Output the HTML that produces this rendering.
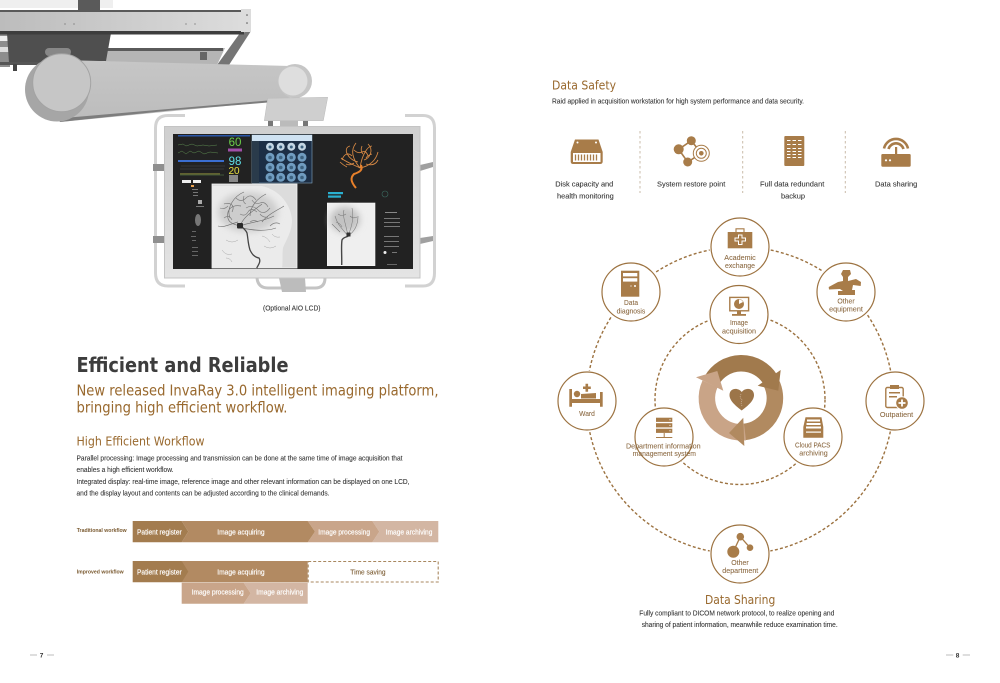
<!DOCTYPE html>
<html><head><meta charset="utf-8"><title>InvaRay</title>
<style>
html,body{margin:0;padding:0;background:#fff;width:1000px;height:683px;overflow:hidden}
svg{display:block}
.b{font-family:"Liberation Sans",sans-serif;font-size:7px;fill:#333;stroke:#333;stroke-width:.08}
.h{font-family:"DejaVu Sans",sans-serif;fill:#99692f}
.n{font-family:"Liberation Sans",sans-serif;font-size:7.5px;fill:#8c6a43;stroke:#8c6a43;stroke-width:.08;text-anchor:middle}
.w{font-family:"Liberation Sans",sans-serif;font-size:7px;fill:#fff;stroke:#fff;stroke-width:.15}
.l{font-family:"Liberation Sans",sans-serif;font-size:5.5px;fill:#7a5a30;font-weight:bold}
.node{fill:#fff;stroke:#9c7240;stroke-width:1.2}
.ic{fill:#a87c4a}
</style></head><body>
<svg width="1000" height="683" viewBox="0 0 1000 683" xmlns="http://www.w3.org/2000/svg">
<defs>
<linearGradient id="rail" x1="0" x2="1" y1="0" y2="0"><stop offset="0" stop-color="#bcbcbc"/><stop offset="1" stop-color="#dcdcdc"/></linearGradient>
<linearGradient id="arm" x1="0" x2="0" y1="0" y2="1"><stop offset="0" stop-color="#c6c6c6"/><stop offset="1" stop-color="#bcbcbc"/></linearGradient>
<linearGradient id="frame" x1="0" x2="0" y1="0" y2="1"><stop offset="0" stop-color="#cfcfcf"/><stop offset="1" stop-color="#e4e4e4"/></linearGradient>
<filter id="all" x="0" y="0" width="100%" height="100%"><feGaussianBlur stdDeviation=".3"/></filter>
<filter id="w" x="-30%" y="-30%" width="160%" height="160%"><feGaussianBlur stdDeviation="3.5"/></filter>
<filter id="v" x="-5%" y="-5%" width="110%" height="110%"><feGaussianBlur stdDeviation=".35"/></filter>
</defs>
<g filter="url(#all)">
<rect width="1000" height="683" fill="#fff"/>
<!-- gantry -->
<rect x="0" y="0" width="113" height="8" fill="#efefef"/>
<rect x="78" y="0" width="22" height="10" fill="#5a5a5a"/>
<rect x="0" y="33" width="10" height="34" fill="#8d8d8d"/>
<rect x="0" y="36" width="10" height="5" fill="#eee"/>
<rect x="0" y="47" width="10" height="5" fill="#ddd"/>
<polygon points="107,48 225,48 217,65 105,62" fill="#b5b5b5"/>
<rect x="107" y="48" width="116" height="3" fill="#5a5a5a"/>
<polygon points="251,31 229,65 217,65 240,33" fill="#747474"/>
<polygon points="7,33 111,33 106,61 30,63 9,63" fill="#4f4f4f"/>
<rect x="0" y="62" width="45" height="3" fill="#555"/>
<rect x="13" y="64" width="4" height="7" fill="#444"/>
<rect x="0" y="31" width="244" height="3.5" fill="#3e3e3e"/>
<rect x="0" y="12" width="243" height="19" fill="url(#rail)"/>
<rect x="0" y="10" width="243" height="2" fill="#5a5a5a"/>
<rect x="241" y="9" width="10" height="23" fill="#dcdcdc"/>
<circle cx="247" cy="15" r=".8" fill="#555"/><circle cx="247" cy="23" r=".8" fill="#555"/>
<circle cx="65" cy="24" r=".6" fill="#666"/><circle cx="74" cy="24" r=".6" fill="#666"/><circle cx="186" cy="24" r=".6" fill="#666"/><circle cx="195" cy="24" r=".6" fill="#666"/>
<rect x="200" y="52" width="7" height="8" fill="#666"/>
<rect x="45" y="48" width="26" height="8" rx="4" fill="#888"/>
<polygon points="80,60.5 290,66 293,97 268,102 60,122" fill="url(#arm)"/>
<polygon points="58,118.5 268,100.5 268,102.5 170,110.5 60,122" fill="#7d7d7d"/>
<circle cx="57" cy="89.5" r="32" fill="#a6a6a6"/>
<circle cx="61.7" cy="82.7" r="29" fill="#c6c6c6" stroke="#a3a3a3" stroke-width="1"/>
<circle cx="295" cy="81" r="17" fill="#c6c6c6"/>
<circle cx="293" cy="81" r="14.5" fill="#dedede"/>
<rect x="268" y="120" width="5" height="7" fill="#777"/><rect x="280" y="120" width="18" height="7" fill="#bbb"/><rect x="303" y="120" width="5" height="7" fill="#777"/>
<polygon points="267.7,98.3 327.7,97.3 323.3,120.7 264.3,120.7" fill="#cfcfcf" stroke="#bbb" stroke-width=".5"/>
<!-- handles -->
<path d="M185 115.5H168Q155.5 115.5 155.5 128V273Q155.5 286 168 286H185" fill="none" stroke="#d2d2d2" stroke-width="3"/>
<path d="M405 115.5H423Q434.5 115.5 434.5 128V273Q434.5 286 423 286H405" fill="none" stroke="#d2d2d2" stroke-width="3"/>
<rect x="153" y="164" width="12" height="7" fill="#8f8f8f"/><rect x="153" y="236" width="12" height="7" fill="#8f8f8f"/>
<polygon points="420,165 433,162 433,167 420,171" fill="#a0a0a0"/><polygon points="420,238 433,236 433,241 420,244" fill="#a0a0a0"/>
<path d="M257 278Q258 288 268 288H315Q325 288 325 278" fill="none" stroke="#c4c4c4" stroke-width="3"/>
<polygon points="279,278 305,278 306,292 282,292" fill="#bcbcbc"/>
<!-- monitor -->
<rect x="164.5" y="126.5" width="255.5" height="151.5" fill="url(#frame)" stroke="#c4c4c4"/>
<rect x="173" y="134" width="240" height="135" fill="#232323"/>
<!-- left panel -->
<rect x="178" y="135" width="72" height="1.5" fill="#2c56a8"/>
<rect x="178" y="160" width="46" height="2" fill="#3a6ed0"/>
<path d="M178 145l5-1 3 2 6-2 5 2 6-1 6 1 8-1M178 153l4-2 4 3 4-3 4 2 5-2 5 3 6-2 8 1M180 175h44" stroke="#5c8a50" stroke-width=".5" fill="none"/>
<path d="M181 166h44M180 169h44" stroke="#4a4a4a" stroke-width=".6"/>
<rect x="182" y="180" width="9" height="3" fill="#eee"/><rect x="193" y="180" width="8" height="3" fill="#eee"/>
<rect x="191" y="185" width="3" height="2" fill="#e8a050"/>
<rect x="192" y="189" width="6" height="1" fill="#777"/><rect x="193" y="192" width="5" height="1" fill="#777"/><rect x="193" y="195" width="5" height="1" fill="#777"/>
<rect x="198" y="200" width="4" height="4" fill="#aaa"/><rect x="196" y="206" width="8" height="1" fill="#777"/>
<ellipse cx="198" cy="220" rx="3" ry="6" fill="#777"/>
<rect x="192" y="231" width="4" height="1" fill="#666"/><rect x="191" y="236" width="5" height="1" fill="#666"/><rect x="192" y="240" width="4" height="1" fill="#666"/>
<rect x="192" y="247" width="6" height="1" fill="#666"/><rect x="192" y="251" width="6" height="1" fill="#666"/><rect x="192" y="255" width="6" height="1" fill="#666"/>
<text x="235" y="146" text-anchor="middle" font-family="Liberation Sans,sans-serif" font-size="11.5" fill="#6cd04a">60</text>
<rect x="228" y="148.5" width="14" height="3" fill="#a050a8"/>
<text x="235" y="165" text-anchor="middle" font-family="Liberation Sans,sans-serif" font-size="11.5" fill="#5fe0e8">98</text>
<text x="234" y="174" text-anchor="middle" font-family="Liberation Sans,sans-serif" font-size="10" fill="#e8e040">20</text>
<rect x="229" y="175" width="9" height="7" fill="#888"/>
<rect x="180" y="173.5" width="40" height=".8" fill="#a0a040"/>
<!-- blue panel -->
<rect x="252" y="135" width="60" height="48" fill="#1b2e44" stroke="#86a8c4" stroke-width=".6"/>
<rect x="252" y="135" width="60" height="6" fill="#cfe2f2"/>
<rect x="252" y="141" width="7" height="42" fill="#2a3a4c"/>
<g fill="#c4d6e4"><circle cx="270" cy="146.7" r="4"/><circle cx="280.7" cy="146.7" r="4"/><circle cx="291.3" cy="146.7" r="4"/><circle cx="302" cy="146.7" r="4"/></g>
<g fill="#6f9cc0"><circle cx="270" cy="157.3" r="4.5"/><circle cx="280.7" cy="157.3" r="4.5"/><circle cx="291.3" cy="157.3" r="4.5"/><circle cx="302" cy="157.3" r="4.5"/><circle cx="270" cy="167.3" r="4.5"/><circle cx="280.7" cy="167.3" r="4.5"/><circle cx="291.3" cy="167.3" r="4.5"/><circle cx="302" cy="167.3" r="4.5"/><circle cx="270" cy="177.3" r="4.5"/><circle cx="280.7" cy="177.3" r="4.5"/><circle cx="291.3" cy="177.3" r="4.5"/><circle cx="302" cy="177.3" r="4.5"/></g>
<g fill="#3c6280"><circle cx="270" cy="147" r="1.5"/><circle cx="280.7" cy="147" r="1.5"/><circle cx="291.3" cy="147" r="1.5"/><circle cx="302" cy="147" r="1.5"/><circle cx="270" cy="157.5" r="1.8"/><circle cx="280.7" cy="157.5" r="1.8"/><circle cx="291.3" cy="157.5" r="1.8"/><circle cx="302" cy="157.5" r="1.8"/><circle cx="270" cy="167.5" r="1.8"/><circle cx="280.7" cy="167.5" r="1.8"/><circle cx="291.3" cy="167.5" r="1.8"/><circle cx="302" cy="167.5" r="1.8"/><circle cx="270" cy="177.5" r="1.8"/><circle cx="280.7" cy="177.5" r="1.8"/><circle cx="291.3" cy="177.5" r="1.8"/><circle cx="302" cy="177.5" r="1.8"/></g>
<!-- big angiogram -->
<rect x="212" y="184" width="85" height="84" fill="#dcdcdc" stroke="#f3f3f3" stroke-width=".8"/>
<path d="M212 186H262C280 190 291 205 292 220 292 232 286 240 283 248 282 256 283 262 282 268H212Z" fill="#ebebeb"/>
<ellipse cx="248" cy="212" rx="30" ry="20" fill="#cdcdcd" filter="url(#w)"/>
<g fill="none" stroke="#6f6f6f" stroke-width=".65" filter="url(#v)">
<path d="M240 226C232 224 226 222 228 212 230 206 236 205 241 206M240 226C244 216 252 212 262 204M240 226C250 222 262 222 274 216M242 228C252 230 264 232 276 228M238 222C230 224 224 228 218 226M250 216C250 206 258 198 266 194M232 212C236 204 228 202 224 204M262 222C268 214 278 210 284 206M230 218C226 208 234 196 244 192"/>
<path d="M236 198q5 5 10 0t10 2M246 208q6-4 12 2t12-2M224 218q5-4 8 2M270 226q5-5 10-2M240 214q5 3 8-2t9 0M252 200q3 5 8 3t8 4M244 196q-2 6 2 8M260 214q3 4 8 3M220 208q4 2 8-2M250 222q4-3 8 0" stroke="#7f7f7f"/>
<path d="M226 240q6 4 12 0M264 246q6 4 12 0M222 250q4 6 10 4M262 236q5 1 8 6M226 258q4 0 6 4M272 234q3 4 8 3" stroke="#aaa" stroke-width=".5"/>
<path d="M256.7 268C259 264 261 261 259 258 254 257 252 254 250 250 248 244 248 238 247 233 246 230 243 228 241 226" stroke="#444" stroke-width="1.3"/>
</g>
<rect x="237" y="223" width="6" height="5.5" rx="1" fill="#2c2c2c"/>
<!-- small angiogram -->
<rect x="327.3" y="203" width="47.7" height="62.7" fill="#efefef" stroke="#f7f7f7" stroke-width=".6"/>
<ellipse cx="345" cy="219.7" rx="15" ry="13" fill="#c2c2c2" filter="url(#w)"/>
<g fill="none" stroke="#7a7a7a" stroke-width=".55" filter="url(#v)"><path d="M348 236C342 228 338 226 335 216M348 236C346 224 342 216 344 210M348 236C352 226 354 218 352 208M348 236C354 232 358 226 358 216M340 232C336 228 334 226 332 224M338 214q4 3 8 0M350 216q3 3 7 1M336 222q4 1 6 5"/></g>
<path d="M341.7 265C342 256 341 246 342 240 344 236 348 238 350 234" fill="none" stroke="#474747" stroke-width="1.4"/>
<rect x="346.5" y="232.5" width="4" height="4" fill="#333"/>
<!-- orange tree -->
<g fill="none" stroke="#d98a44" stroke-width=".85"><path d="M360 168C352 164 346 162 341 158M360 168C350 156 352 148 356 143M360 168C362 154 368 146 372 146M360 168C370 166 376 160 378 152M358 162C348 160 342 148 350 146M364 160C370 158 374 150 368 144M352 156C348 152 344 154 342 160M366 164C372 166 376 164 378 160M354 150q4 4 8 2t6 4M346 164q4 2 8-1M362 146q-2 5 1 8M372 154q-4 1-6 4M340 162q3 3 7 5"/></g>
<path d="M356 188C351 182 350 178 354 174 360 172 363 170 361 165" fill="none" stroke="#e8802c" stroke-width="2"/>
<rect x="328" y="192" width="15" height="2.2" fill="#2ab0d0"/><rect x="328" y="195.5" width="13" height="2.2" fill="#2ab0d0"/>
<circle cx="385" cy="194" r="3" fill="none" stroke="#3a6a60" stroke-width=".6"/>
<rect x="385" y="212" width="12" height="1" fill="#888"/><rect x="384" y="218" width="16" height="1" fill="#777"/><rect x="384" y="222" width="16" height="1" fill="#777"/><rect x="384" y="226" width="16" height="1" fill="#777"/><rect x="384" y="236" width="15" height="1" fill="#777"/><rect x="384" y="241" width="15" height="1" fill="#777"/><rect x="384" y="246" width="15" height="1" fill="#777"/>
<circle cx="385" cy="252.5" r="1.5" fill="#eee"/><rect x="392" y="252" width="5" height="1" fill="#777"/><rect x="387" y="264" width="10" height="1" fill="#666"/>

<text class="b" x="263" y="310.7" textLength="57.5" lengthAdjust="spacingAndGlyphs">(Optional AIO LCD)</text>

<!-- left text -->
<text x="76.5" y="372" font-family="DejaVu Sans,sans-serif" font-weight="bold" font-size="20" fill="#3c3c3c" textLength="212" lengthAdjust="spacingAndGlyphs">Efficient and Reliable</text>
<text class="h" x="76.5" y="395.7" font-size="15.5" textLength="362" lengthAdjust="spacingAndGlyphs">New released InvaRay 3.0 intelligent imaging platform,</text>
<text class="h" x="76.5" y="412.7" font-size="15.5" textLength="211" lengthAdjust="spacingAndGlyphs">bringing high efficient workflow.</text>
<text class="h" x="76.5" y="445.7" font-size="12.5" textLength="128" lengthAdjust="spacingAndGlyphs">High Efficient Workflow</text>
<text class="b" x="76.5" y="460.5" textLength="326" lengthAdjust="spacingAndGlyphs">Parallel processing: Image processing and transmission can be done at the same time of image acquisition that</text>
<text class="b" x="76.5" y="472" textLength="97" lengthAdjust="spacingAndGlyphs">enables a high efficient workflow.</text>
<text class="b" x="76.5" y="484" textLength="333" lengthAdjust="spacingAndGlyphs">Integrated display: real-time image, reference image and other relevant information can be displayed on one LCD,</text>
<text class="b" x="76.5" y="495.5" textLength="253" lengthAdjust="spacingAndGlyphs">and the display layout and contents can be adjusted according to the clinical demands.</text>

<!-- workflow -->
<text class="l" x="76.7" y="532" textLength="50" lengthAdjust="spacingAndGlyphs">Traditional workflow</text>
<polygon points="372.3,521 438.3,521 438.3,542.3 372.3,542.3 379.3,531.6" fill="#d3b6a3"/>
<polygon points="307.7,521 372.3,521 379.3,531.6 372.3,542.3 307.7,542.3 315,531.6" fill="#c9a58a"/>
<polygon points="181.7,521 307.7,521 315,531.6 307.7,542.3 181.7,542.3 188.3,531.6" fill="#b28a62"/>
<polygon points="132.7,521 181.7,521 188.3,531.6 181.7,542.3 132.7,542.3" fill="#a37c50"/>
<text class="w" x="137" y="534.3" textLength="44.7" lengthAdjust="spacingAndGlyphs">Patient register</text>
<text class="w" x="217.3" y="534.3" textLength="47.3" lengthAdjust="spacingAndGlyphs">Image acquiring</text>
<text class="w" x="318.3" y="534.3" textLength="51.7" lengthAdjust="spacingAndGlyphs">Image processing</text>
<text class="w" x="385.7" y="534.3" textLength="46.7" lengthAdjust="spacingAndGlyphs">Image archiving</text>

<text class="l" x="76.7" y="573.3" textLength="47" lengthAdjust="spacingAndGlyphs">Improved workflow</text>
<rect x="181.7" y="561" width="126" height="21.3" fill="#b28a62"/>
<polygon points="132.7,561 181.7,561 188.3,571.6 181.7,582.3 132.7,582.3" fill="#a37c50"/>
<rect x="308.2" y="561.5" width="130" height="20.5" fill="none" stroke="#a8875f" stroke-width="1.1" stroke-dasharray="3 2"/>
<text class="w" x="137" y="574.3" textLength="44.7" lengthAdjust="spacingAndGlyphs">Patient register</text>
<text class="w" x="217.3" y="574.3" textLength="47.3" lengthAdjust="spacingAndGlyphs">Image acquiring</text>
<text class="b" x="350.3" y="574.3" textLength="35.3" lengthAdjust="spacingAndGlyphs" style="fill:#7a5a30;stroke:#7a5a30">Time saving</text>
<polygon points="243.7,582.7 307.7,582.7 307.7,603.7 243.7,603.7 250.7,593.2" fill="#d3b6a3"/>
<polygon points="181.7,582.7 243.7,582.7 250.7,593.2 243.7,603.7 181.7,603.7" fill="#c9a58a"/>
<text class="w" x="191.7" y="594.7" textLength="52" lengthAdjust="spacingAndGlyphs">Image processing</text>
<text class="w" x="256.3" y="594.7" textLength="47" lengthAdjust="spacingAndGlyphs">Image archiving</text>

<!-- page numbers -->
<g fill="#bdbdbd"><rect x="30" y="654.5" width="7" height="1"/><rect x="47" y="654.5" width="7" height="1"/><rect x="946" y="654.5" width="7.3" height="1"/><rect x="962.7" y="654.5" width="7.3" height="1"/></g>
<text x="41.6" y="657.5" text-anchor="middle" font-family="Liberation Sans,sans-serif" font-size="6.5" font-weight="bold" fill="#333">7</text>
<text x="957.6" y="657.5" text-anchor="middle" font-family="Liberation Sans,sans-serif" font-size="6.5" font-weight="bold" fill="#333">8</text>

<!-- right top -->
<text class="h" x="552" y="89.3" font-size="12.5" textLength="64" lengthAdjust="spacingAndGlyphs">Data Safety</text>
<text class="b" x="552" y="103.7" textLength="252" lengthAdjust="spacingAndGlyphs">Raid applied in acquisition workstation for high system performance and data security.</text>
<g stroke="#c9bba8" stroke-width="1" stroke-dasharray="2.5 2.5"><path d="M640 131V193M742.7 131V193M845.3 131V193"/></g>

<!-- disk -->
<path class="ic" d="M575 139.5H598.5L602.7 152V161.5Q602.7 164 600 164H573Q570.7 164 570.7 161.5V152Z"/>
<rect x="573" y="153" width="27.5" height="9" fill="#fff"/>
<path d="M575.5 154.5V160.5M578.5 154.5V160.5M581.5 154.5V160.5M584.5 154.5V160.5M587.5 154.5V160.5M590.5 154.5V160.5M593.5 154.5V160.5M596.5 154.5V160.5" stroke="#a87c4a" stroke-width="1.3"/>
<circle cx="577.5" cy="142.5" r="1" fill="#fff"/><circle cx="596" cy="142.5" r="1" fill="#fff"/>
<!-- network -->
<path d="M691.3 140.7L678.7 149.3L687.7 162L701.3 153.3Z" fill="none" stroke="#a87c4a" stroke-width="1.6"/>
<circle class="ic" cx="691.3" cy="140.7" r="4.5"/><circle class="ic" cx="678.7" cy="149.3" r="5"/><circle class="ic" cx="687.7" cy="162" r="4.5"/>
<circle cx="701.3" cy="153.3" r="8" fill="#fff" stroke="#a87c4a" stroke-width="1"/><circle cx="701.3" cy="153.3" r="5" fill="none" stroke="#a87c4a" stroke-width="1"/><circle class="ic" cx="701.3" cy="153.3" r="2.3"/>
<!-- rack -->
<rect class="ic" x="784.3" y="136" width="20" height="30" rx="1"/>
<path d="M787 140.5h3.5M792.5 140.5h3.5M798 140.5h3.5M787 144.5h3.5M792.5 144.5h3.5M798 144.5h3.5M787 148.5h3.5M792.5 148.5h3.5M798 148.5h3.5M787 151.5h3.5M792.5 151.5h3.5M798 151.5h3.5M787 154.5h3.5M792.5 154.5h3.5M798 154.5h3.5M787 157.5h3.5M792.5 157.5h3.5M798 157.5h3.5" stroke="#fff" stroke-width=".9"/>
<!-- router -->
<rect class="ic" x="881.3" y="154" width="29.4" height="12.7" rx="1.2"/>
<rect class="ic" x="895" y="147" width="2.2" height="8"/>
<path d="M884 148.5A12.3 12.3 0 0 1 908 148.5M888.5 149A7.8 7.8 0 0 1 903.5 149" fill="none" stroke="#a87c4a" stroke-width="2.6"/>
<circle cx="886" cy="160.3" r="1.1" fill="#fff"/><circle cx="890" cy="160.3" r="1.1" fill="#fff"/>

<g class="b" style="font-size:7.5px">
<text x="555.3" y="186.7" textLength="58" lengthAdjust="spacingAndGlyphs">Disk capacity and</text>
<text x="557" y="198.7" textLength="56.7" lengthAdjust="spacingAndGlyphs">health monitoring</text>
<text x="657" y="186.7" textLength="68.3" lengthAdjust="spacingAndGlyphs">System restore point</text>
<text x="760" y="186.7" textLength="64.3" lengthAdjust="spacingAndGlyphs">Full data redundant</text>
<text x="781" y="198.7" textLength="24" lengthAdjust="spacingAndGlyphs">backup</text>
<text x="875" y="186.7" textLength="42.3" lengthAdjust="spacingAndGlyphs">Data sharing</text>
</g>

<!-- rings -->
<circle cx="740" cy="400.5" r="153.5" fill="none" stroke="#9c7240" stroke-width="1.4" stroke-dasharray="3 2.2"/>
<circle cx="740" cy="399.5" r="85" fill="none" stroke="#9c7240" stroke-width="1.4" stroke-dasharray="3 2.2"/>

<!-- halos -->
<g fill="#fff"><circle cx="740" cy="247" r="30.5"/><circle cx="631" cy="292" r="30.5"/><circle cx="846" cy="292" r="30.5"/><circle cx="587" cy="401" r="30.5"/><circle cx="895" cy="401" r="30.5"/><circle cx="740" cy="554" r="30.5"/><circle cx="739" cy="314.5" r="30.5"/><circle cx="664" cy="437" r="30"/><circle cx="813" cy="437" r="30"/></g>
<g class="node"><circle cx="740" cy="247" r="29"/><circle cx="631" cy="292" r="29"/><circle cx="846" cy="292" r="29"/><circle cx="587" cy="401" r="29"/><circle cx="895" cy="401" r="29"/><circle cx="740" cy="554" r="29"/><circle cx="739" cy="314.5" r="29"/><circle cx="664" cy="437" r="29"/><circle cx="813" cy="437" r="29"/></g>

<!-- center arrows -->
<g fill="none" stroke-width="16.5">
<path d="M712 380A34 34 0 0 1 770 379" stroke="#a17a4e"/>
<path d="M769 379A34 34 0 0 1 744 432" stroke="#b18a60"/>
<path d="M745 432A34 34 0 0 1 710 384" stroke="#c9a487"/>
</g>
<polygon points="696,377.3 717.3,371 723.3,390.7" fill="#c9a487"/>
<polygon points="780.7,370 757.7,385.7 778.3,390.7" fill="#a17a4e"/>
<polygon points="743.3,417.7 729,433 744.3,446" fill="#b18a60"/>
<path d="M741.7 410.5C733 404 729.5 399.5 729.5 395 729.5 388 738 387 741.7 392 745.5 387 754 388 754 395 754 399.5 750.5 404 741.7 410.5Z" fill="#9c744a"/>
<path d="M741 394l-1 3 2 3-1 3 1 3" fill="none" stroke="#d3b9a0" stroke-width=".7" stroke-dasharray="1 1"/>

<!-- briefcase -->
<rect class="ic" x="727.7" y="232" width="24.6" height="16.3"/>
<path d="M736 232V228.8H744V232" fill="none" stroke="#a87c4a" stroke-width="1.1"/>
<path d="M738 234.5H742.5V237.5H746V241.5H742.5V245H738V241.5H734.5V237.5H738Z" fill="#fff"/>
<path d="M739 235.5H741.5V238.5H745V240.5H741.5V244H739V240.5H735.5V238.5H739Z" class="ic"/>
<text class="n" x="740" y="260" textLength="31.4" lengthAdjust="spacingAndGlyphs">Academic</text>
<text class="n" x="740" y="268" textLength="30" lengthAdjust="spacingAndGlyphs">exchange</text>
<!-- tower -->
<rect class="ic" x="621" y="270.7" width="18.3" height="26"/>
<rect x="623" y="273" width="14.3" height="3.4" fill="#fff"/><rect x="623" y="278.2" width="14.3" height="3.4" fill="#fff"/>
<circle cx="635" cy="286" r="1" fill="#fff"/><circle cx="631" cy="286" r=".6" fill="#fff"/>
<text class="n" x="631" y="305" textLength="14" lengthAdjust="spacingAndGlyphs">Data</text>
<text class="n" x="631" y="313.3" textLength="28.7" lengthAdjust="spacingAndGlyphs">diagnosis</text>
<!-- bed -->
<path class="ic" d="M569.3 389H572V399H600V392H602.7V406.7H600V403H572V406.7H569.3Z"/>
<circle class="ic" cx="577" cy="394" r="3.2"/>
<path class="ic" d="M581 394L596 393V398.5H581Z"/>
<path class="ic" d="M583 386.5h2.5v-2.7h2.6v2.7h2.7v2.5h-2.7v2.7h-2.6v-2.7h-2.5Z"/>
<text class="n" x="587" y="416" textLength="15.7" lengthAdjust="spacingAndGlyphs">Ward</text>
<!-- monitor icon -->
<rect x="729.8" y="297.4" width="18.8" height="13.4" fill="#fff" stroke="#a87c4a" stroke-width="1.4"/>
<circle class="ic" cx="739" cy="304" r="5"/>
<path d="M739 304V299.5A4.5 4.5 0 0 1 743 302Z" fill="#fff"/>
<rect class="ic" x="737" y="311" width="4" height="3"/><rect class="ic" x="732" y="314" width="14" height="1.8"/>
<text class="n" x="739" y="325" textLength="18" lengthAdjust="spacingAndGlyphs">Image</text>
<text class="n" x="739" y="333.3" textLength="34" lengthAdjust="spacingAndGlyphs">acquisition</text>
<!-- c-arm -->
<path class="ic" d="M843 270H850L851 274 848 277V281L856 279 861 282 860.7 286 853 285 852 290H855V295H838V291H843L840 289 829 289.5 828.7 287 838 282 843 281V277L841 274Z"/>
<text class="n" x="846" y="303.3" textLength="17.3" lengthAdjust="spacingAndGlyphs">Other</text>
<text class="n" x="846" y="311.3" textLength="33.7" lengthAdjust="spacingAndGlyphs">equipment</text>
<!-- clipboard -->
<rect x="885.8" y="387.5" width="17.4" height="20" rx="1.5" fill="#fff" stroke="#a87c4a" stroke-width="1.4"/>
<rect class="ic" x="890" y="385" width="9" height="4"/>
<rect class="ic" x="889" y="392" width="11" height="1.5"/><rect class="ic" x="889" y="396" width="8" height="1.5"/>
<circle cx="902" cy="403" r="6.3" class="ic" stroke="#fff" stroke-width="1"/>
<path d="M898.5 403H905.5M902 399.5V406.5" stroke="#fff" stroke-width="1.8"/>
<text class="n" x="896.5" y="417" textLength="33.3" lengthAdjust="spacingAndGlyphs">Outpatient</text>
<!-- server -->
<rect class="ic" x="656" y="417.7" width="16.3" height="4.2"/><rect class="ic" x="656" y="423.2" width="16.3" height="4.2"/><rect class="ic" x="656" y="428.7" width="16.3" height="4.2"/>
<path d="M664.2 433V437.5M656 437.5H672.3" stroke="#a87c4a" stroke-width="1"/>
<circle cx="670" cy="419.8" r=".6" fill="#fff"/><circle cx="670" cy="425.3" r=".6" fill="#fff"/><circle cx="670" cy="430.8" r=".6" fill="#fff"/>
<text class="n" x="663.3" y="448.3" textLength="74.7" lengthAdjust="spacingAndGlyphs">Department information</text>
<text class="n" x="664.3" y="456" textLength="63.3" lengthAdjust="spacingAndGlyphs">management system</text>
<!-- tray -->
<path class="ic" d="M805.5 417.3H821.5L823.3 427V437.7H803.3V427Z"/>
<rect x="807" y="419.5" width="13" height="2" fill="#fff"/><rect x="806.5" y="423" width="14" height="2" fill="#fff"/><rect x="806" y="426.5" width="15" height="2" fill="#fff"/>
<rect x="806" y="431.5" width="15" height="1.2" fill="#fff"/>
<text class="n" x="812.7" y="447.3" textLength="35.3" lengthAdjust="spacingAndGlyphs">Cloud PACS</text>
<text class="n" x="813.5" y="455.3" textLength="28.4" lengthAdjust="spacingAndGlyphs">archiving</text>
<!-- other dept -->
<path d="M733.3 551.7L740.3 536.7L750 547.7" fill="none" stroke="#a87c4a" stroke-width="1.3"/>
<circle class="ic" cx="733.3" cy="551.7" r="6"/><circle class="ic" cx="740.3" cy="536.7" r="3.8"/><circle class="ic" cx="750" cy="547.7" r="3.3"/>
<text class="n" x="740" y="565" textLength="17.4" lengthAdjust="spacingAndGlyphs">Other</text>
<text class="n" x="740.3" y="573" textLength="36" lengthAdjust="spacingAndGlyphs">department</text>

<!-- bottom right text -->
<text class="h" x="705" y="604" font-size="12.5" textLength="70.3" lengthAdjust="spacingAndGlyphs">Data Sharing</text>
<text class="b" x="639.3" y="615.3" textLength="195" lengthAdjust="spacingAndGlyphs">Fully compliant to DICOM network protocol, to realize opening and</text>
<text class="b" x="641.7" y="627" textLength="196" lengthAdjust="spacingAndGlyphs">sharing of patient information, meanwhile reduce examination time.</text>
</g>
</svg>
</body></html>
